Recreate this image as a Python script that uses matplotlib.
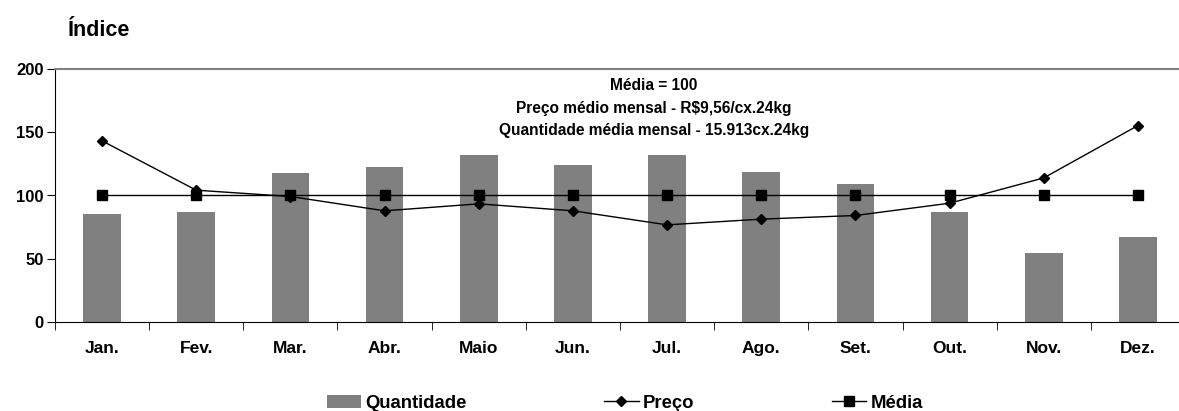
import numpy as np
import matplotlib.pyplot as plt

plt.rcParams["font.family"] = ["Liberation Sans", "DejaVu Sans"]
plt.rcParams["font.weight"] = "bold"

meses = ["Jan.", "Fev.", "Mar.", "Abr.", "Maio", "Jun.", "Jul.", "Ago.", "Set.", "Out.", "Nov.", "Dez."]
quantidade = [85.5, 87.1, 117.9, 122.6, 132.1, 124.2, 132.1, 118.7, 109.2, 87.1, 54.7, 67.4]
preco = [143.2, 104.2, 99.2, 87.9, 93.4, 87.9, 76.8, 81.3, 84.2, 93.9, 113.9, 155.3]
media = [100] * 12

fig = plt.figure(figsize=(11.79, 4.11), dpi=100)
ax = fig.add_axes([55 / 1179, 1 - 322 / 411, 1130 / 1179, 253 / 411])

x = np.arange(len(meses))
ax.bar(x, quantidade, width=0.4, color="#808080", label="Quantidade", zorder=1)
ax.plot(x, preco, color="black", lw=1, marker="D", ms=5, label="Preço", zorder=3)
ax.plot(x, media, color="black", lw=1, marker="s", ms=7, label="Média", zorder=2)

ax.set_xlim(-0.5, len(meses) - 0.5)
ax.set_ylim(0, 200)
ax.set_yticks([0, 50, 100, 150, 200])
ax.set_xticks(x)
ax.set_xticklabels(meses, fontsize=12.5, fontweight="bold")
ax.tick_params(axis="x", length=0, pad=14)
ax.set_xticks(np.arange(-0.5, len(meses), 1), minor=True)
ax.tick_params(axis="x", which="minor", length=6, direction="out")
ax.tick_params(axis="y", labelsize=12, length=6, pad=2)
for lbl in ax.get_yticklabels():
    lbl.set_fontweight("bold")

ax.spines["top"].set_color("#808080")
ax.spines["top"].set_linewidth(1.5)
ax.spines["right"].set_visible(False)

ax.text(5.86, 192.5, "Média = 100\nPreço médio mensal - R$9,56/cx.24kg\nQuantidade média mensal - 15.913cx.24kg",
        ha="center", va="top", fontsize=11.2, fontweight="bold", linespacing=1.6)

fig.text(99 / 1179, 1 - 31 / 411, "Índice", ha="center", va="center", fontsize=15.5, fontweight="bold")

handles, labels = ax.get_legend_handles_labels()
ordem = [labels.index(n) for n in ["Quantidade", "Preço", "Média"]]
fig.legend([handles[i] for i in ordem], [labels[i] for i in ordem],
           loc="center left", bbox_to_anchor=(310 / 1179, 1 - 403 / 411), ncol=3, frameon=False,
           columnspacing=7.45, handlelength=1.85, handletextpad=0.25,
           prop={"weight": "bold", "size": 13.3})

fig.savefig("out.png", dpi=100)
